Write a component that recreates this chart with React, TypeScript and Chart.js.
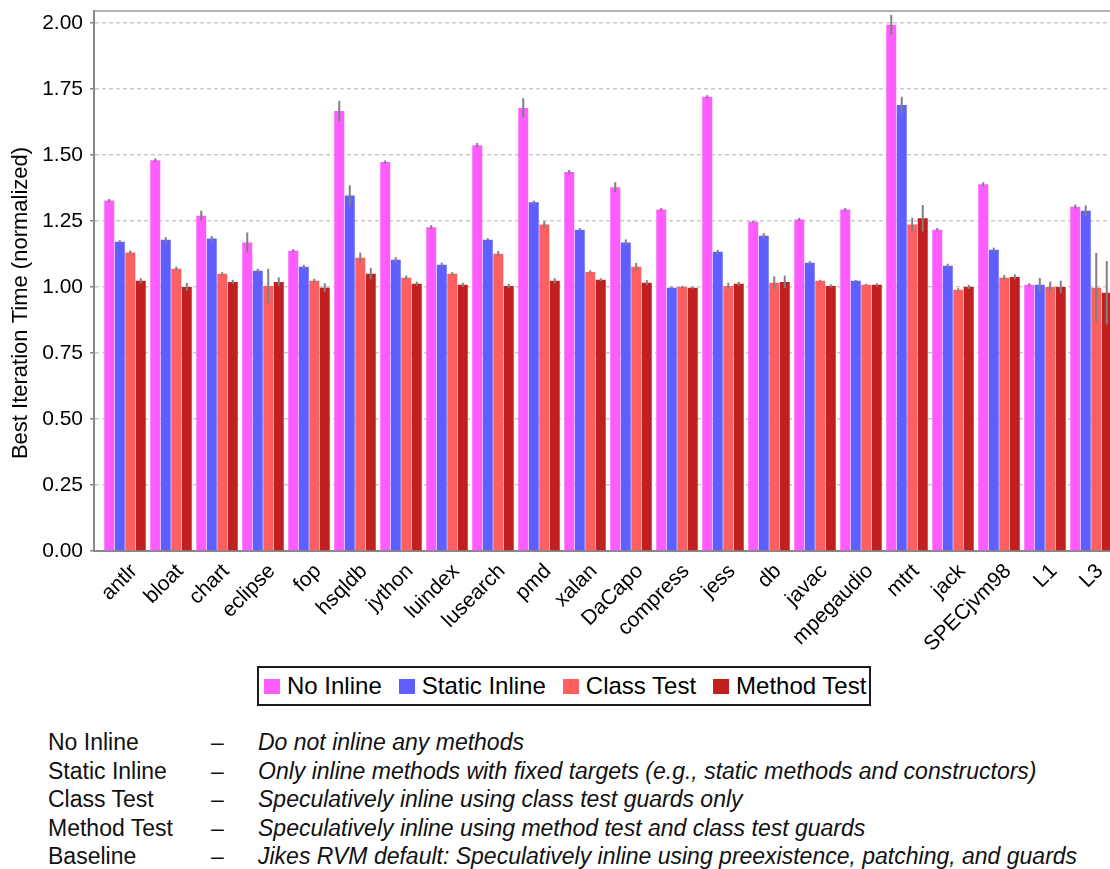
import React, { useEffect, useRef } from "react";
import { Chart, registerables } from "chart.js";

Chart.register(...registerables);

const categories = [
  "antlr", "bloat", "chart", "eclipse", "fop", "hsqldb", "jython", "luindex",
  "lusearch", "pmd", "xalan", "DaCapo", "compress", "jess", "db", "javac",
  "mpegaudio", "mtrt", "jack", "SPECjvm98", "L1", "L3",
];

const seriesNames = ["No Inline", "Static Inline", "Class Test", "Method Test"];
const seriesColors = ["#ff5cff", "#5f5fff", "#ff5f5f", "#c02020"];

const noInline = [1.327, 1.480, 1.270, 1.168, 1.137, 1.666, 1.473, 1.226, 1.537, 1.678, 1.435, 1.378, 1.293, 1.720, 1.247, 1.255, 1.293, 1.993, 1.217, 1.389, 1.008, 1.304];
const staticInline = [1.171, 1.179, 1.183, 1.061, 1.076, 1.346, 1.103, 1.084, 1.179, 1.321, 1.217, 1.168, 0.997, 1.133, 1.194, 1.092, 1.023, 1.689, 1.080, 1.141, 1.008, 1.289];
const classTest = [1.130, 1.069, 1.050, 1.004, 1.023, 1.111, 1.035, 1.050, 1.126, 1.236, 1.057, 1.076, 1.000, 1.004, 1.016, 1.023, 1.008, 1.236, 0.989, 1.035, 1.000, 0.997];
const methodTest = [1.023, 1.000, 1.019, 1.019, 0.997, 1.050, 1.012, 1.008, 1.004, 1.023, 1.027, 1.016, 0.997, 1.012, 1.019, 1.004, 1.008, 1.260, 1.000, 1.038, 1.000, 0.978];

const noInlineErr = [0.006, 0.007, 0.019, 0.038, 0.006, 0.039, 0.006, 0.008, 0.008, 0.037, 0.008, 0.019, 0.006, 0.006, 0.004, 0.006, 0.006, 0.037, 0.006, 0.008, 0.006, 0.008];
const staticInlineErr = [0.006, 0.010, 0.010, 0.008, 0.008, 0.039, 0.010, 0.008, 0.006, 0.006, 0.006, 0.012, 0.004, 0.008, 0.010, 0.006, 0.004, 0.031, 0.008, 0.008, 0.026, 0.020];
const classTestErr = [0.008, 0.008, 0.006, 0.065, 0.008, 0.019, 0.008, 0.006, 0.010, 0.013, 0.006, 0.015, 0.004, 0.012, 0.024, 0.004, 0.004, 0.026, 0.006, 0.010, 0.020, 0.132];
const methodTestErr = [0.010, 0.015, 0.008, 0.017, 0.017, 0.022, 0.008, 0.008, 0.008, 0.010, 0.006, 0.010, 0.004, 0.008, 0.024, 0.006, 0.006, 0.050, 0.008, 0.010, 0.024, 0.120];

const seriesValues = [noInline, staticInline, classTest, methodTest];
const seriesErrors = [noInlineErr, staticInlineErr, classTestErr, methodTestErr];

const yTicks = [0, 0.25, 0.5, 0.75, 1.0, 1.25, 1.5, 1.75, 2.0];
const yTitle = "Best Iteration Time (normalized)";

const notes: [string, string][] = [
  ["No Inline", "Do not inline any methods"],
  ["Static Inline", "Only inline methods with fixed targets (e.g., static methods and constructors)"],
  ["Class Test", "Speculatively inline using class test guards only"],
  ["Method Test", "Speculatively inline using method test and class test guards"],
  ["Baseline", "Jikes RVM default: Speculatively inline using preexistence, patching, and guards"],
];

const FONT = "'Liberation Sans', Arial, sans-serif";

const errorBarPlugin = {
  id: "errorBars",
  afterDatasetsDraw(chart: any) {
    const ctx = chart.ctx;
    const y = chart.scales.y;
    ctx.save();
    ctx.strokeStyle = "#808080";
    ctx.lineWidth = 2;
    seriesValues.forEach((vals, d) => {
      const meta = chart.getDatasetMeta(d);
      meta.data.forEach((bar: any, j: number) => {
        const v = vals[j];
        const e = seriesErrors[d][j];
        ctx.beginPath();
        ctx.moveTo(bar.x, y.getPixelForValue(v + e));
        ctx.lineTo(bar.x, y.getPixelForValue(v - e));
        ctx.stroke();
      });
    });
    ctx.restore();
  },
};

const framePlugin = {
  id: "frame",
  afterDraw(chart: any) {
    const ctx = chart.ctx;
    const a = chart.chartArea;
    ctx.save();
    ctx.strokeStyle = "#999";
    ctx.lineWidth = 1.5;
    ctx.beginPath();
    ctx.moveTo(a.left, a.top);
    ctx.lineTo(a.right, a.top);
    ctx.stroke();
    ctx.translate(21, 303);
    ctx.rotate(-Math.PI / 2);
    ctx.fillStyle = "#000";
    ctx.font = `22px ${FONT}`;
    ctx.textAlign = "center";
    ctx.textBaseline = "middle";
    ctx.fillText(yTitle, 0, 0);
    ctx.restore();
  },
};

export default function App() {
  const canvasRef = useRef<HTMLCanvasElement | null>(null);

  useEffect(() => {
    if (!canvasRef.current) return;
    const chart = new Chart(canvasRef.current, {
      type: "bar",
      data: {
        datasets: seriesNames.map((name, d) => ({
          label: name,
          data: seriesValues[d].map((v, i) => ({ x: i, y: v })),
          backgroundColor: seriesColors[d],
          borderWidth: 0,
          categoryPercentage: 0.913,
          barPercentage: 0.95,
        })),
      },
      options: {
        animation: false,
        responsive: false,
        maintainAspectRatio: false,
        devicePixelRatio: 1,
        layout: { padding: { top: 11, left: 0, right: 0, bottom: 0 } },
        plugins: {
          legend: { display: false },
          tooltip: { enabled: false },
        },
        scales: {
          x: {
            type: "linear",
            offset: false,
            min: -0.674,
            max: 21.413,
            grid: { display: false, offset: false },
            border: { display: true, color: "#888", width: 2 },
            afterBuildTicks: (s: any) => {
              s.ticks = categories.map((_, i) => ({ value: i }));
            },
            afterFit: (s: any) => {
              s.height = 109;
              s.paddingLeft = 0;
              s.paddingRight = 0;
            },
            ticks: {
              autoSkip: false,
              minRotation: 45,
              maxRotation: 45,
              padding: 0,
              labelOffset: 9,
              color: "#000",
              font: { family: FONT, size: 21 },
              callback: (_v: any, i: number) => categories[i],
            },
          },
          y: {
            min: 0,
            max: 2.045,
            afterBuildTicks: (s: any) => {
              s.ticks = yTicks.map((v) => ({ value: v }));
            },
            afterFit: (s: any) => {
              s.width = 94;
              s.paddingTop = 0;
              s.paddingBottom = 0;
            },
            grid: {
              color: "#cacaca",
              lineWidth: 1.5,
              drawTicks: true,
              tickLength: 4,
              tickColor: "#888",
              tickWidth: 1.5,
              tickBorderDash: [],
            },
            border: { display: true, color: "#888", width: 2, dash: [4, 3] },
            ticks: {
              padding: 7,
              color: "#000",
              font: { family: FONT, size: 21 },
              callback: (v: any) => Number(v).toFixed(2),
            },
          },
        },
      } as any,
      plugins: [errorBarPlugin, framePlugin],
    });
    return () => chart.destroy();
  }, []);

  return (
    <div
      style={{
        position: "absolute",
        left: 0,
        top: 0,
        width: 1110,
        height: 869,
        overflow: "hidden",
        background: "#fff",
      }}
    >
      <canvas
        ref={canvasRef}
        width={1110}
        height={660}
        style={{ position: "absolute", left: 0, top: 0, width: 1110, height: 660 }}
      />
      <div
        style={{
          position: "absolute",
          left: 257,
          top: 666,
          width: 614,
          height: 40,
          boxSizing: "border-box",
          border: "2px solid #1a1a1a",
          display: "flex",
          alignItems: "center",
          paddingLeft: 5,
          fontFamily: FONT,
          fontSize: 24,
          color: "#000",
          whiteSpace: "nowrap",
        }}
      >
        {seriesNames.map((name, d) => (
          <div key={name} style={{ display: "flex", alignItems: "center", marginRight: 17 }}>
            <span
              style={{
                display: "inline-block",
                width: 16,
                height: 15,
                background: seriesColors[d],
                marginRight: 7,
              }}
            />
            <span>{name}</span>
          </div>
        ))}
      </div>
      <div
        style={{
          position: "absolute",
          left: 48,
          top: 728,
          fontFamily: FONT,
          fontSize: 23,
          lineHeight: "28.5px",
          color: "#111",
          whiteSpace: "nowrap",
        }}
      >
        {notes.map(([k, v]) => (
          <div key={k} style={{ display: "flex" }}>
            <span style={{ display: "inline-block", width: 163 }}>{k}</span>
            <span style={{ display: "inline-block", width: 47 }}>–</span>
            <i>{v}</i>
          </div>
        ))}
      </div>
    </div>
  );
}
